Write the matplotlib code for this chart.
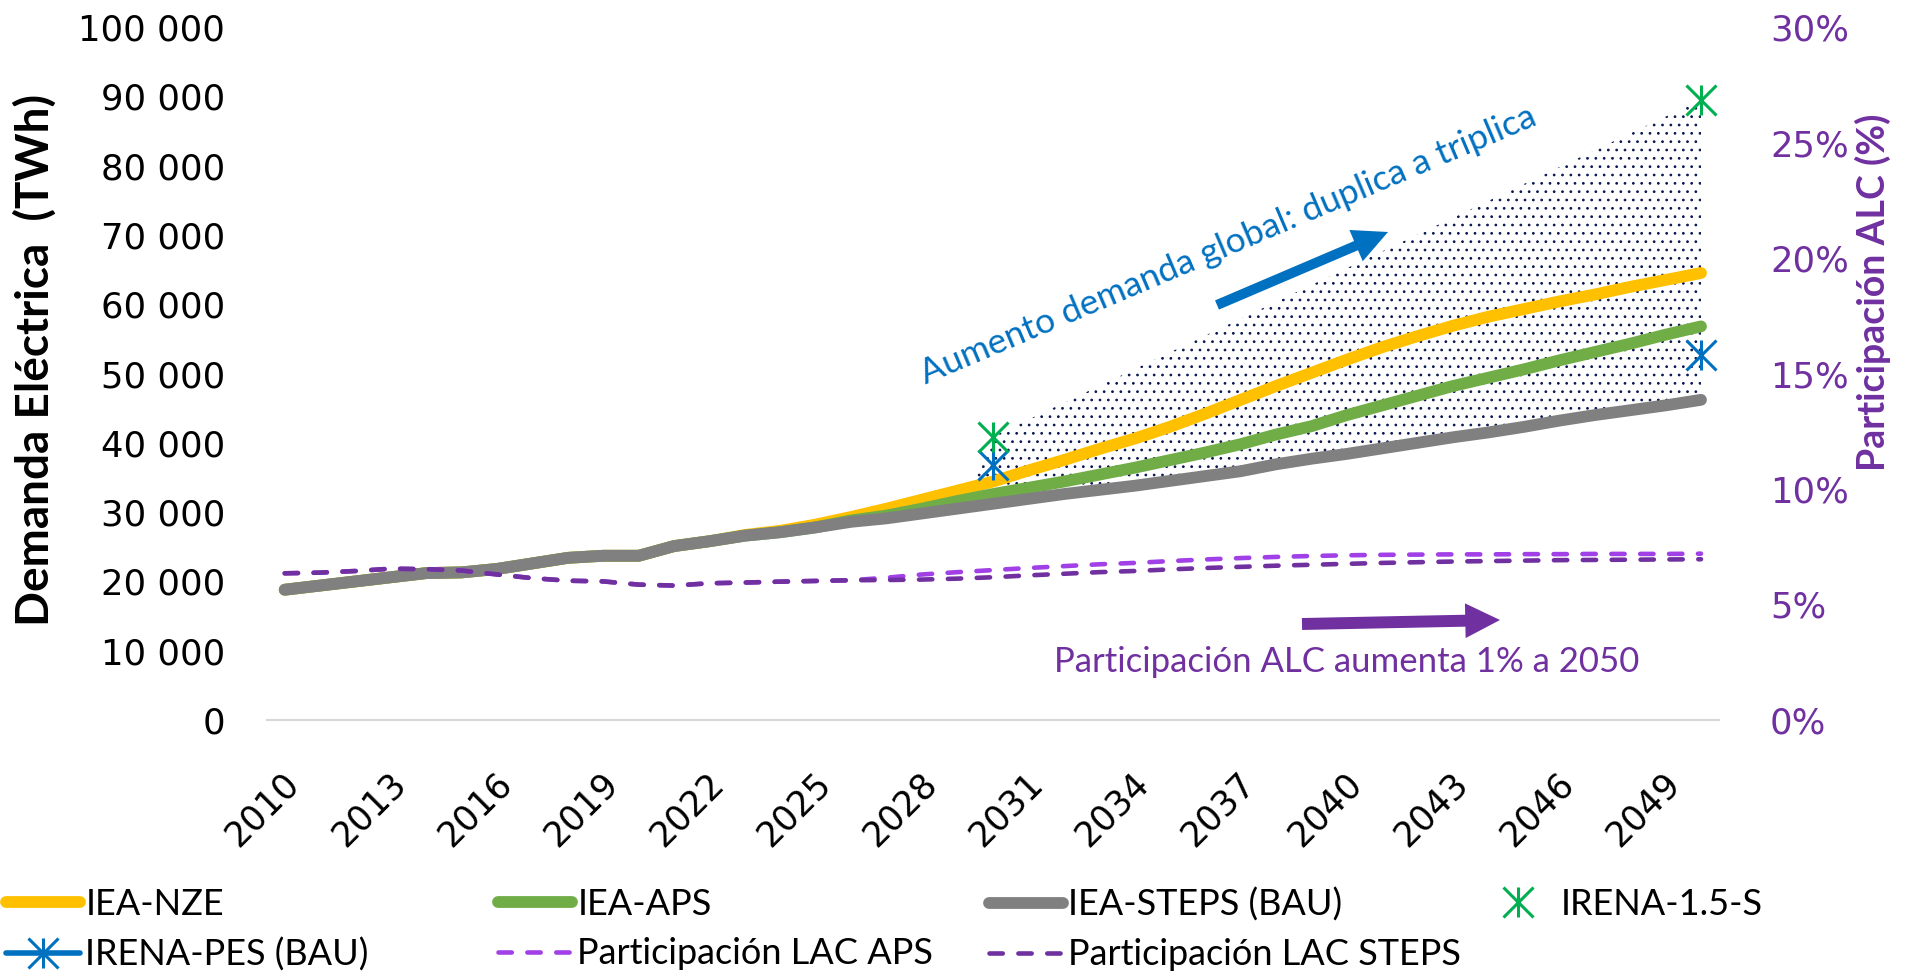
import matplotlib
matplotlib.use("Agg")
import matplotlib.pyplot as plt
from matplotlib.lines import Line2D
from matplotlib.path import Path
from matplotlib.transforms import ScaledTranslation

plt.rcParams['font.family'] = ['Lato', 'DejaVu Sans']
plt.rcParams['hatch.linewidth'] = 0.75

# ---------------- data ----------------
years = list(range(2010, 2051))

iea_steps = [18800, 19400, 20000, 20600, 21200, 21300, 21800, 22600, 23400, 23700,
             23700, 25100, 25800, 26600, 27100, 27800, 28600, 29100, 29800, 30500,
             31200, 31900, 32600, 33200, 33800, 34500, 35200, 35900, 36900, 37700,
             38400, 39200, 40000, 40800, 41500, 42300, 43200, 44000, 44700, 45400,
             46200]
iea_aps = [18800, 19400, 20000, 20600, 21200, 21300, 21800, 22600, 23400, 23700,
           23700, 25100, 25800, 26600, 27100, 27800, 28800, 29500, 30500, 31600,
           32600, 33500, 34400, 35400, 36400, 37500, 38600, 39800, 41200, 42400,
           44000, 45400, 46800, 48200, 49400, 50600, 51900, 53100, 54300, 55600,
           56800]
iea_nze = [18800, 19400, 20000, 20600, 21200, 21300, 21800, 22600, 23400, 23700,
           23700, 25100, 25800, 26700, 27300, 28200, 29300, 30500, 31800, 33100,
           34400, 36000, 37500, 39100, 40600, 42300, 44200, 46200, 48200, 50100,
           52000, 53800, 55400, 56900, 58200, 59300, 60400, 61400, 62500, 63500,
           64500]

irena_years = [2030, 2050]
irena_15s = [40900, 89500]
irena_pes = [36800, 52700]

# LAC share of global demand (%)
lac_aps = [6.35, 6.38, 6.45, 6.55, 6.53, 6.47, 6.30, 6.14, 6.03, 6.00,
           5.86, 5.82, 5.92, 5.95, 5.99, 6.02, 6.05, 6.16, 6.30, 6.40,
           6.49, 6.58, 6.66, 6.74, 6.80, 6.88, 6.95, 7.01, 7.06, 7.10,
           7.13, 7.15, 7.16, 7.17, 7.17, 7.18, 7.18, 7.19, 7.19, 7.19,
           7.20]
lac_steps = [6.35, 6.38, 6.45, 6.55, 6.53, 6.47, 6.30, 6.14, 6.03, 6.00,
             5.86, 5.82, 5.92, 5.95, 5.99, 6.02, 6.05, 6.06, 6.08, 6.12,
             6.18, 6.26, 6.33, 6.40, 6.45, 6.52, 6.58, 6.63, 6.68, 6.72,
             6.76, 6.80, 6.83, 6.86, 6.88, 6.90, 6.92, 6.93, 6.94, 6.95,
             6.96]

xtick_years = list(range(2010, 2050, 3))
ytick_vals = list(range(0, 100001, 10000))
ytick_labels = [f"{v:,}".replace(",", " ") for v in ytick_vals]
y2tick_vals = [0, 5, 10, 15, 20, 25, 30]
y2tick_labels = [f"{v}%" for v in y2tick_vals]

labels = {
    'nze': 'IEA-NZE', 'aps': 'IEA-APS', 'steps': 'IEA-STEPS (BAU)',
    'i15': 'IRENA-1.5-S', 'pes': 'IRENA-PES (BAU)',
    'laps': 'Participación LAC APS', 'lsteps': 'Participación LAC STEPS',
}

# ---------------- styles ----------------
C_NZE = '#FFC000'
C_APS = '#70AD47'
C_STEPS = '#808080'
C_I15 = '#00B050'
C_PES = '#0070C0'
C_LAPS = '#A040E6'
C_LSTEPS = '#7030A0'
C_DOTS = '#081650'

W, H = 1927, 972
fig = plt.figure(figsize=(W / 100, H / 100), dpi=100)
ax = fig.add_axes([267 / W, 1 - 720 / H, (1718.7 - 267) / W, (720 - 27) / H])
ax.set_xlim(2009.5, 2050.5)
ax.set_ylim(0, 100000)
ax2 = ax.twinx()
ax2.set_ylim(0, 30)

# star marker (X + vertical bar)
star = Path([(0, -1), (0, 1), (-1, -1), (1, 1), (-1, 1), (1, -1)],
            [Path.MOVETO, Path.LINETO, Path.MOVETO, Path.LINETO, Path.MOVETO, Path.LINETO])

# dotted band between STEPS and IRENA 1.5 S
i29 = years.index(2029)
top_x = [2029, irena_years[0], irena_years[1]]
top_y = [iea_steps[i29], irena_15s[0], irena_15s[1]]
bot_x = years[i29:][::-1]
bot_y = iea_steps[i29:][::-1]
ax.fill(top_x + bot_x, top_y + bot_y, facecolor='none', edgecolor=C_DOTS,
        hatch='..', linewidth=0, zorder=1)

LW = 8.5
ax.plot(years, iea_nze, color=C_NZE, lw=LW, solid_capstyle='round', zorder=3)
ax.plot(years, iea_aps, color=C_APS, lw=LW, solid_capstyle='round', zorder=3)
ax.plot(years, iea_steps, color=C_STEPS, lw=LW, solid_capstyle='round', zorder=3)
MS = 21.6
ax.plot(irena_years, irena_pes, ls='none', marker=star, ms=MS, mfc='none',
        mec=C_PES, mew=2.2, zorder=4)
ax.plot(irena_years, irena_15s, ls='none', marker=star, ms=MS, mfc='none',
        mec=C_I15, mew=2.2, zorder=4)

DASH = (2.9, 3.4)
DLW = 3.3
ax2.plot(years, lac_aps, color=C_LAPS, lw=DLW, dashes=DASH, dash_capstyle='round')
ax2.plot(years, lac_steps, color=C_LSTEPS, lw=DLW, dashes=DASH, dash_capstyle='round')

# axes styling
for s in ['top', 'right', 'left']:
    ax.spines[s].set_visible(False)
ax.spines['bottom'].set_color('#D9D9D9')
ax.spines['bottom'].set_linewidth(1.6)
for s in ax2.spines.values():
    s.set_visible(False)

TICK_FS = 25.5
ax.set_yticks(ytick_vals, ytick_labels)
ax.tick_params(axis='y', length=0, pad=30, labelsize=TICK_FS, labelfontfamily='DejaVu Sans')
ax.set_xticks(xtick_years)
ax.tick_params(axis='x', length=0, labelbottom=False)
ax2.set_yticks(y2tick_vals, y2tick_labels)
ax2.tick_params(axis='y', length=0, pad=37, labelsize=TICK_FS, labelcolor=C_LSTEPS,
                labelfontfamily='DejaVu Sans')

off = ScaledTranslation(-22 / 100, -89 / 100, fig.dpi_scale_trans)
for yr in xtick_years:
    ax.text(yr, 0, str(yr), transform=ax.get_xaxis_transform() + off,
            rotation=45, rotation_mode='anchor', ha='center', va='center',
            fontsize=25, family='DejaVu Sans')

# axis titles
fig.text(35 / W, 1 - 360 / H, 'Demanda Eléctrica  (TWh)', rotation=90,
         ha='center', va='center', fontsize=33, fontweight='bold', color='black')
fig.text(1873 / W, 1 - 292 / H, 'Participación ALC (%)', rotation=90,
         ha='center', va='center', fontsize=27, fontweight='bold', color=C_LSTEPS)

# annotations
fig.text(1232 / W, 1 - 254 / H, 'Aumento demanda global: duplica a triplica',
         rotation=23, rotation_mode='anchor', ha='center', va='baseline',
         fontsize=25.5, color=C_PES)
fig.text(1347 / W, 1 - 672 / H, 'Participación ALC aumenta 1% a 2050',
         ha='center', va='baseline', fontsize=25, color=C_LSTEPS)

s = 10.0
ax.annotate('', xy=(1388, H - 232), xytext=(1217, H - 305), xycoords='figure pixels',
            textcoords='figure pixels', annotation_clip=False,
            arrowprops=dict(arrowstyle=f'simple,head_length={25 / s},head_width={24.5 / s},tail_width={7.2 / s}',
                            mutation_scale=s, color=C_PES, lw=0, shrinkA=0, shrinkB=0))
ax.annotate('', xy=(1500, H - 620), xytext=(1302, H - 624), xycoords='figure pixels',
            textcoords='figure pixels', annotation_clip=False,
            arrowprops=dict(arrowstyle=f'simple,head_length={25 / s},head_width={25 / s},tail_width={8.6 / s}',
                            mutation_scale=s, color=C_LSTEPS, lw=0, shrinkA=0, shrinkB=0))

# legend (4 columns, row-major as in reference)
h_nze = Line2D([], [], color=C_NZE, lw=LW, solid_capstyle='round')
h_aps = Line2D([], [], color=C_APS, lw=LW, solid_capstyle='round')
h_steps = Line2D([], [], color=C_STEPS, lw=LW, solid_capstyle='round')
h_i15 = Line2D([], [], ls='none', marker=star, ms=MS, mfc='none', mec=C_I15, mew=2.2)
h_pes = Line2D([], [], color=C_PES, lw=4, marker=star, ms=MS, mfc='none', mec=C_PES,
               mew=2.2, solid_capstyle='round')
h_laps = Line2D([], [], color=C_LAPS, lw=DLW, dashes=DASH, dash_capstyle='round')
h_lsteps = Line2D([], [], color=C_LSTEPS, lw=DLW, dashes=DASH, dash_capstyle='round')

columns = [
    ([h_nze, h_pes], [labels['nze'], labels['pes']], 6),
    ([h_aps, h_laps], [labels['aps'], labels['laps']], 498),
    ([h_steps, h_lsteps], [labels['steps'], labels['lsteps']], 989),
    ([h_i15], [labels['i15']], 1481),
]
for hs, ls_, x0 in columns:
    fig.legend(hs, ls_, loc='upper left', bbox_to_anchor=(x0 / W, 1 - 888 / H),
               frameon=False, borderpad=0, borderaxespad=0, handlelength=2.05,
               handletextpad=0.15, labelspacing=0.45, fontsize=26)

fig.savefig('out.png', dpi=100)
